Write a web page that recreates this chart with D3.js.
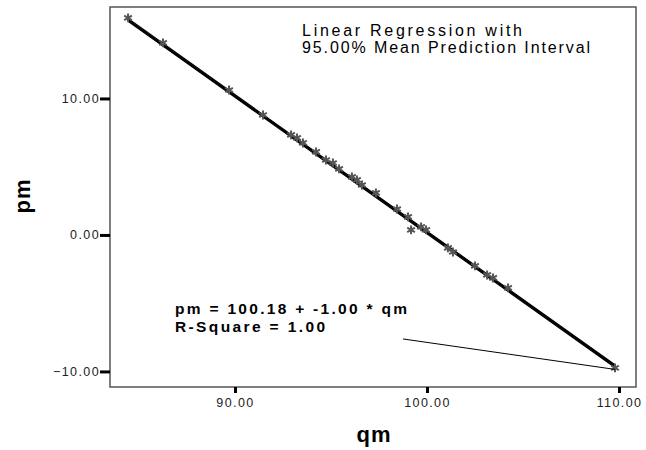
<!DOCTYPE html>
<html>
<head>
<meta charset="utf-8">
<script src="https://cdn.jsdelivr.net/npm/d3@7"></script>
<style>
	body { margin: 0; background: #fff; }
	svg { display: block; font-family: 'Liberation Sans', Arial, sans-serif; }
</style>
</head>
<body>
<div class="svg-container"></div>
<script>
const w = 646;
const h = 450;

// data
const qmValues = [84.43, 86.25, 89.69, 91.46, 92.92, 93.23, 93.54, 94.22, 94.74, 95.10,
	95.42, 96.09, 96.35, 96.61, 97.34, 98.44, 99.01, 99.17, 99.69, 99.95,
	101.09, 101.35, 102.50, 103.13, 103.44, 104.22, 109.79];
const pmValues = [15.90, 14.07, 10.62, 8.79, 7.33, 7.11, 6.74, 6.08, 5.49, 5.27,
	4.84, 4.25, 4.03, 3.66, 3.08, 1.90, 1.32, 0.37, 0.59, 0.37,
	-0.95, -1.25, -2.27, -2.93, -3.15, -3.88, -9.74];
const xTicks = [90, 100, 110];
const yTicks = [-10, 0, 10];
const intercept = 100.18;
const slope = -1.0;
const band = 0.1; // half width of the mean prediction interval
const leaderFrom = [98.75, -7.62];
const leaderTo = [109.79, -9.85];

const svg = d3
	.select('.svg-container')
	.append('svg')
	.attr('width', w)
	.attr('height', h)
	.style('background-color', '#fff');

const xScale = d3.scaleLinear().domain([83.49, 110.885]).range([110, 636]);
const yScale = d3.scaleLinear().domain([-11.14, 16.70]).range([387, 7]);

// frame
svg
	.append('rect')
	.attr('x', xScale.range()[0])
	.attr('y', yScale.range()[1])
	.attr('width', xScale.range()[1] - xScale.range()[0])
	.attr('height', yScale.range()[0] - yScale.range()[1])
	.attr('fill', 'none')
	.attr('stroke', '#555')
	.attr('stroke-width', 1.5);

// axes
const xAxis = d3
	.axisBottom(xScale)
	.tickValues(xTicks)
	.tickSize(6)
	.tickPadding(5)
	.tickFormat(d3.format('.2f'));

const gx = svg
	.append('g')
	.attr('transform', `translate(0, ${yScale.range()[0]})`)
	.call(xAxis);

const yAxis = d3
	.axisLeft(yScale)
	.tickValues(yTicks)
	.tickSize(10)
	.tickPadding(0)
	.tickFormat(d3.format('.2f'));

const gy = svg
	.append('g')
	.attr('transform', `translate(${xScale.range()[0]}, 0)`)
	.call(yAxis);

[gx, gy].forEach(g => {
	g.select('.domain').remove();
	g.selectAll('.tick line').attr('stroke', '#000').attr('stroke-width', 3);
	g.selectAll('.tick text')
		.attr('fill', '#222')
		.style('font-size', '12.5px')
		.style('letter-spacing', '1.4px')
		.style('font-family', "'Liberation Sans', Arial, sans-serif");
});

// regression line and interval
const qExtent = d3.extent(qmValues);
const fit = q => intercept + slope * q;

[-band, 0, band].forEach(off => {
	svg
		.append('line')
		.attr('x1', xScale(qExtent[0]))
		.attr('y1', yScale(fit(qExtent[0]) + off))
		.attr('x2', xScale(qExtent[1]))
		.attr('y2', yScale(fit(qExtent[1]) + off))
		.attr('stroke', '#000')
		.attr('stroke-width', off === 0 ? 2 : 1.2);
});

// points
const points = qmValues.map((q, i) => ({ qm: q, pm: pmValues[i] }));

svg
	.selectAll('.dot')
	.data(points)
	.enter()
	.append('path')
	.attr('class', 'dot')
	.attr('transform', d => `translate(${xScale(d.qm)}, ${yScale(d.pm)})`)
	.attr('d', d3.symbol(d3.symbolAsterisk, 55))
	.attr('fill', 'none')
	.attr('stroke', '#555')
	.attr('stroke-width', 2);

// leader line to the equation
svg
	.append('line')
	.attr('x1', xScale(leaderFrom[0]))
	.attr('y1', yScale(leaderFrom[1]))
	.attr('x2', xScale(leaderTo[0]))
	.attr('y2', yScale(leaderTo[1]))
	.attr('stroke', '#000')
	.attr('stroke-width', 1);

// annotations
svg
	.append('text')
	.attr('x', 302)
	.attr('y', 36)
	.attr('textLength', 220)
	.attr('lengthAdjust', 'spacing')
	.style('font-size', '16px')
	.text('Linear Regression with');

svg
	.append('text')
	.attr('x', 302)
	.attr('y', 53)
	.attr('textLength', 288)
	.attr('lengthAdjust', 'spacing')
	.style('font-size', '16px')
	.text('95.00% Mean Prediction Interval');

svg
	.append('text')
	.attr('x', 175)
	.attr('y', 314)
	.attr('textLength', 232)
	.attr('lengthAdjust', 'spacing')
	.style('font-size', '15.5px')
	.style('font-weight', 'bold')
	.text('pm = 100.18 + -1.00 * qm');

svg
	.append('text')
	.attr('x', 175)
	.attr('y', 332)
	.attr('textLength', 150)
	.attr('lengthAdjust', 'spacing')
	.style('font-size', '15.5px')
	.style('font-weight', 'bold')
	.text('R-Square = 1.00');

// axis titles
svg
	.append('text')
	.attr('x', 374)
	.attr('y', 442)
	.style('text-anchor', 'middle')
	.style('font-size', '22px')
	.style('font-weight', 'bold')
	.style('letter-spacing', '1px')
	.text('qm');

svg
	.append('text')
	.attr('transform', 'translate(30, 196) rotate(-90)')
	.style('text-anchor', 'middle')
	.style('font-size', '22px')
	.style('font-weight', 'bold')
	.style('letter-spacing', '1px')
	.text('pm');
</script>
</body>
</html>
